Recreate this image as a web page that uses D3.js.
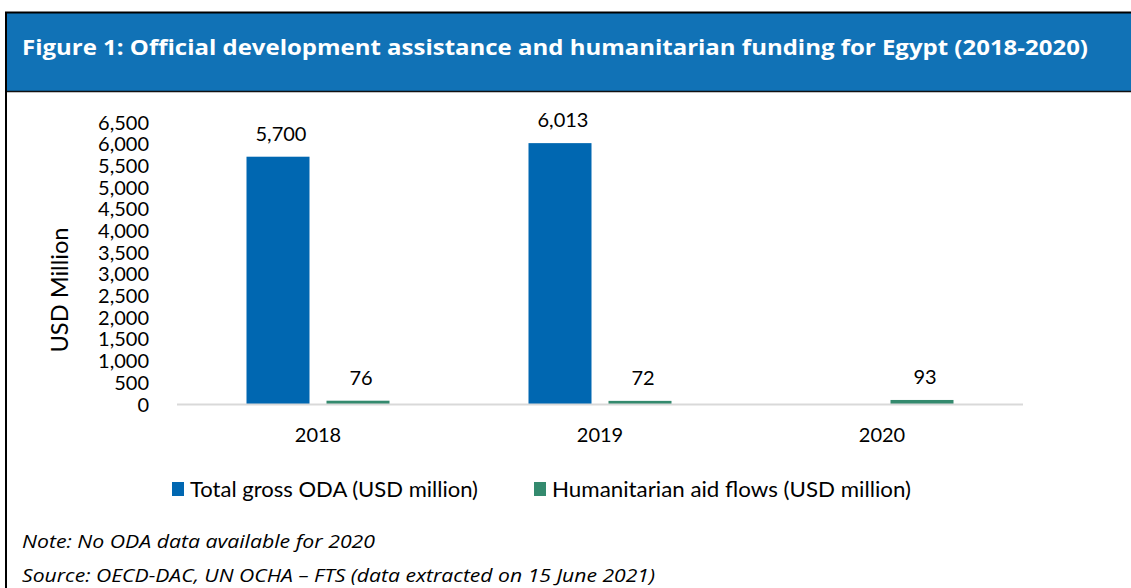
<!DOCTYPE html>
<html>
<head>
<meta charset="utf-8">
<script src="https://cdn.jsdelivr.net/npm/d3@7"></script>
<style>
  html, body { margin: 0; padding: 0; background: #fff; }
  svg { display: block; }
</style>
</head>
<body>
<svg id="chart" width="1131" height="588"></svg>
<script>
// Funding figures, USD million
const years = ["2018", "2019", "2020"];
const odaValues = [5700, 6013, null];          // no ODA figure for 2020
const humanitarianValues = [76, 72, 93];
const seriesNames = ["Total gross ODA (USD million)", "Humanitarian aid flows (USD million)"];
const seriesColors = ["#0067b1", "#348a6e"];
const yTicks = [0, 500, 1000, 1500, 2000, 2500, 3000, 3500, 4000, 4500, 5000, 5500, 6000, 6500];

const titleText = "Figure 1: Official development assistance and humanitarian funding for Egypt (2018-2020)";
const noteLines = [
  "Note: No ODA data available for 2020",
  "Source: OECD-DAC, UN OCHA \u2013 FTS (data extracted on 15 June 2021)"
];

const svg = d3.select("#chart");
const W = 1131, H = 588;
const chartFont = "Lato, 'Open Sans', sans-serif";

// Header band
svg.append("rect").attr("x", 7).attr("y", 13).attr("width", W - 7).attr("height", 78).attr("fill", "#1172b6");
svg.append("line").attr("x1", 7).attr("x2", W).attr("y1", 91.5).attr("y2", 91.5).attr("stroke", "#111").attr("stroke-width", 1.5);
svg.append("line").attr("x1", 5).attr("x2", W).attr("y1", 12.5).attr("y2", 12.5).attr("stroke", "#000").attr("stroke-width", 2);
svg.append("line").attr("x1", 6).attr("x2", 6).attr("y1", 12).attr("y2", H).attr("stroke", "#000").attr("stroke-width", 2);

svg.append("text")
  .attr("x", 22).attr("y", 55)
  .attr("fill", "#fff")
  .style("font-family", "'Open Sans', sans-serif")
  .style("font-weight", 700)
  .style("font-size", "21px")
  .attr("textLength", 1066).attr("lengthAdjust", "spacingAndGlyphs")
  .text(titleText);

// Plot area
const m = { left: 177, right: 1023, top: 122, bottom: 404 };
const x0 = d3.scaleBand().domain(years).range([m.left, m.right]).paddingInner(0).paddingOuter(0);
const x1 = d3.scaleBand().domain([0, 1])
  .range([x0.bandwidth() / 2 - 71.5, x0.bandwidth() / 2 + 71.5])
  .paddingInner(0.2125);
const y = d3.scaleLinear().domain([0, 6500]).range([m.bottom, m.top]);

// Y axis (labels only)
const yAxis = d3.axisLeft(y).tickValues(yTicks).tickSize(0).tickPadding(0).tickFormat(d3.format(","));
const yg = svg.append("g").attr("transform", `translate(149,0)`).call(yAxis);
yg.select(".domain").remove();
yg.selectAll("text")
  .style("font-family", chartFont).style("font-size", "20px").attr("fill", "#000").attr("dy", "0.35em");

svg.append("text")
  .attr("transform", `translate(68,290) rotate(-90)`)
  .attr("text-anchor", "middle")
  .style("font-family", chartFont).style("font-size", "24px")
  .attr("textLength", 125).attr("lengthAdjust", "spacingAndGlyphs")
  .text("USD Million");

// Bars
const rows = years.map((yr, i) => ({ year: yr, values: [odaValues[i], humanitarianValues[i]] }));
const groups = svg.selectAll("g.year").data(rows).join("g")
  .attr("class", "year")
  .attr("transform", d => `translate(${x0(d.year)},0)`);

const present = d => d.values.map((v, k) => ({ v, k })).filter(e => e.v != null);

groups.selectAll("rect").data(present)
  .join("rect")
  .attr("x", e => x1(e.k))
  .attr("width", x1.bandwidth())
  .attr("y", e => y(e.v))
  .attr("height", e => y(0) - y(e.v))
  .attr("fill", e => seriesColors[e.k]);

groups.selectAll("text.val").data(present)
  .join("text")
  .attr("class", "val")
  .attr("x", e => x1(e.k) + x1.bandwidth() / 2 + 3)
  .attr("y", e => y(e.v) - 16)
  .attr("text-anchor", "middle")
  .style("font-family", chartFont).style("font-size", "20px")
  .text(e => d3.format(",")(e.v));

// Baseline
svg.append("line").attr("x1", m.left).attr("x2", m.right).attr("y1", y(0) + 0.5).attr("y2", y(0) + 0.5)
  .attr("stroke", "#d9d9d9").attr("stroke-width", 2);

// X axis labels
const xAxis = d3.axisBottom(x0).tickSize(0).tickPadding(0);
const xg = svg.append("g").attr("transform", `translate(0,${m.bottom + 24})`).call(xAxis);
xg.select(".domain").remove();
xg.selectAll("text").style("font-family", chartFont).style("font-size", "20px").attr("fill", "#000").attr("dy", "0.71em");

// Legend
const legendX = [172, 534];
const legendTextLen = [288, 359];
const lg = svg.selectAll("g.legend").data(seriesNames).join("g")
  .attr("class", "legend")
  .attr("transform", (d, i) => `translate(${legendX[i]},482)`);
lg.append("rect").attr("width", 12).attr("height", 14).attr("fill", (d, i) => seriesColors[i]);
lg.append("text").attr("x", 18).attr("y", 15)
  .style("font-family", chartFont).style("font-size", "21px")
  .attr("textLength", (d, i) => legendTextLen[i]).attr("lengthAdjust", "spacingAndGlyphs")
  .text(d => d);

// Notes
const noteLen = [353, 633];
svg.selectAll("text.note").data(noteLines).join("text")
  .attr("class", "note")
  .attr("x", 22).attr("y", (d, i) => 548 + i * 34)
  .style("font-family", "'Open Sans', sans-serif").style("font-style", "italic").style("font-size", "19px")
  .attr("textLength", (d, i) => noteLen[i]).attr("lengthAdjust", "spacingAndGlyphs")
  .text(d => d);
</script>
</body>
</html>
